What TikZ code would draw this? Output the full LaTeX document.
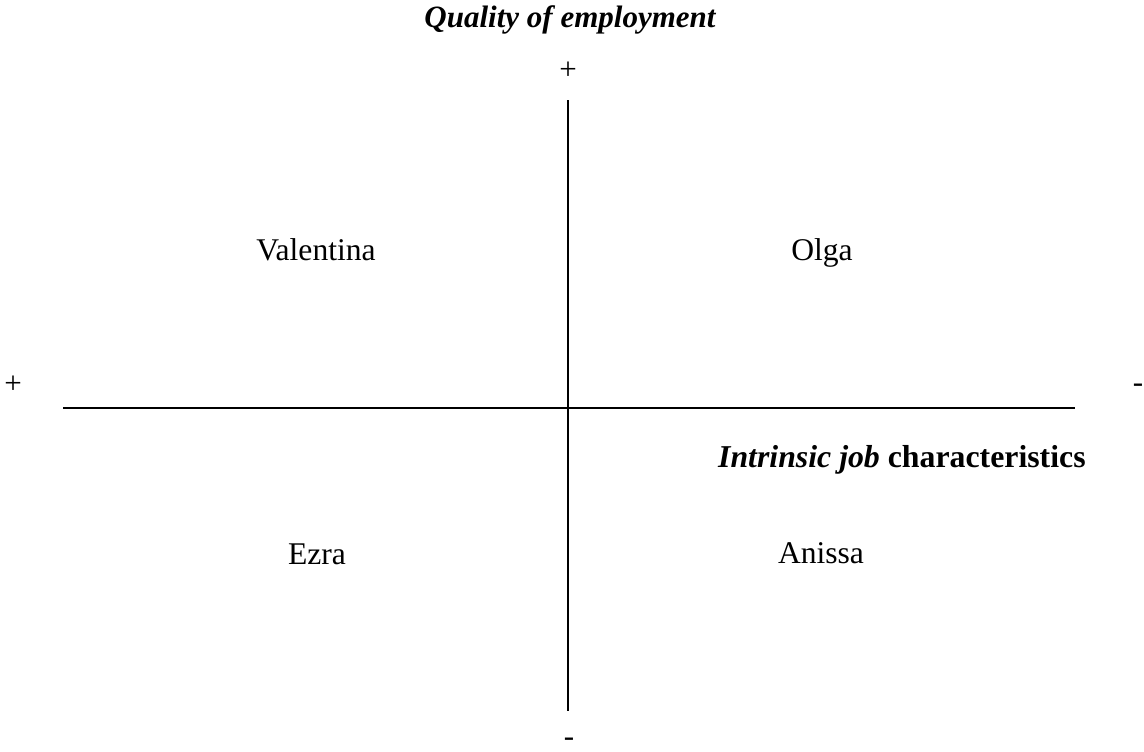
\documentclass[tikz,border=0pt]{standalone}
\usepackage{fontspec}
\setmainfont{Liberation Serif}
\begin{document}
\begin{tikzpicture}[x=0.5pt,y=-0.5pt,
  lbl/.style={font=\fontsize{15.5}{18}\selectfont, inner sep=0pt},
  person/.style={font=\fontsize{15.8}{18}\selectfont, inner sep=0pt, anchor=base},
  axis/.style={line width=1pt}]
\useasboundingbox (0,0) rectangle (1144,751);
\node[lbl, anchor=base, font=\fontsize{15.5}{18}\selectfont\bfseries\itshape] (title) at (570,27) {Quality of employment};
\node[lbl] (ptop) at (568,71) {+};
\node[lbl] (pleft) at (13,385) {+};
\node[lbl] (mright) at (1138,388) {-};
\node[lbl] (mbot) at (569,742) {-};
\coordinate (vt) at (568,100);
\coordinate (vb) at (568,711);
\coordinate (hl) at (63,408);
\coordinate (hr) at (1075,408);
\draw[axis] (vt) -- (vb);
\draw[axis] (hl) -- (hr);
\node[person] (val) at (316,260) {Valentina};
\node[person] (olga) at (822,260) {Olga};
\node[person] (ezra) at (317,564) {Ezra};
\node[person] (anissa) at (821,563) {Anissa};
\node[lbl, anchor=base east, font=\fontsize{15.9}{18}\selectfont] (intr) at (1086,467) {\textbf{\textit{Intrinsic job}} \textbf{characteristics}};
\end{tikzpicture}
\end{document}
